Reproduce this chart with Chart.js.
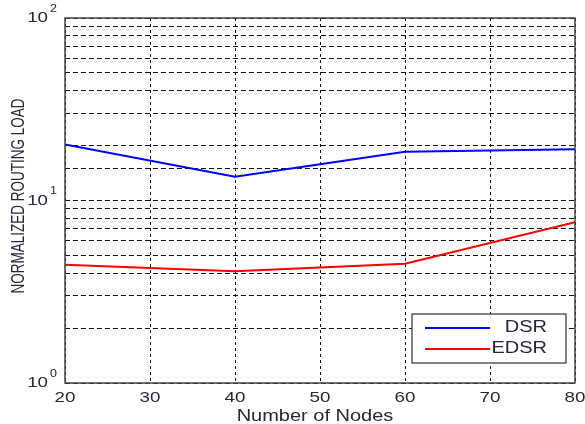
<!DOCTYPE html>
<html>
<head>
<meta charset="utf-8">
<script src="https://cdn.jsdelivr.net/npm/chart.js@4"></script>
<style>
  body { margin: 0; background: #fff; }
  canvas { display: block; }
</style>
</head>
<body>
<canvas id="grafica" width="585" height="424"></canvas>
<script>
// datos de la carga de enrutamiento normalizada
const nodos = [20, 40, 60, 80];
const dsr = [20.3, 13.5, 18.5, 19.1];
const edsr = [4.45, 4.1, 4.5, 7.6];
const ticksX = [20, 30, 40, 50, 60, 70, 80];
const exponentesY = [0, 1, 2];

const colorTexto = '#2a2438';
const estirar = 1.25; // el texto sale un poco ancho

// texto con escala horizontal
function texto(ctx, str, x, y, size, align, base) {
  ctx.save();
  ctx.font = size + 'px "Liberation Sans", Arial, sans-serif';
  ctx.fillStyle = colorTexto;
  ctx.textAlign = align;
  ctx.textBaseline = base;
  ctx.translate(x, y);
  ctx.scale(estirar, 1);
  ctx.fillText(str, 0, 0);
  ctx.restore();
}

const dibujoExtra = {
  id: 'dibujoExtra',
  afterDraw(chart) {
    const ctx = chart.ctx;
    const a = chart.chartArea;
    const sx = chart.scales.x;
    const sy = chart.scales.y;

    // marco
    ctx.save();
    ctx.strokeStyle = '#444';
    ctx.lineWidth = 1.5;
    ctx.strokeRect(a.left, a.top, a.right - a.left, a.bottom - a.top);
    ctx.restore();

    // etiquetas eje x
    ticksX.forEach(v => {
      texto(ctx, String(v), sx.getPixelForValue(v), a.bottom + 7, 15, 'center', 'top');
    });

    // etiquetas eje y: 10 elevado al exponente
    exponentesY.forEach(e => {
      const y = sy.getPixelForValue(Math.pow(10, e));
      texto(ctx, '10', 48, y, 15, 'right', 'middle');
      texto(ctx, String(e), 50, y - 9, 10, 'left', 'middle');
    });

    // titulo eje x
    texto(ctx, 'Number of Nodes', 315, 409, 16, 'center', 'top');

    // titulo eje y (girado)
    ctx.save();
    ctx.font = '13.5px "Liberation Sans", Arial, sans-serif';
    ctx.fillStyle = colorTexto;
    ctx.textAlign = 'center';
    ctx.textBaseline = 'middle';
    ctx.translate(19.5, 196);
    ctx.scale(1.3, 1);
    ctx.rotate(-Math.PI / 2);
    ctx.fillText('NORMALIZED ROUTING LOAD', 0, 0);
    ctx.restore();

    // leyenda
    ctx.save();
    ctx.fillStyle = '#fff';
    ctx.fillRect(412, 314, 154, 49);
    ctx.strokeStyle = '#333';
    ctx.lineWidth = 1.2;
    ctx.strokeRect(412, 314, 154, 49);
    const series = [['DSR', '#0000ff', 328], ['EDSR', '#ff0000', 349]];
    series.forEach(([nombre, color, y]) => {
      ctx.strokeStyle = color;
      ctx.lineWidth = 2;
      ctx.beginPath();
      ctx.moveTo(425, y);
      ctx.lineTo(490, y);
      ctx.stroke();
      texto(ctx, nombre, 547, y, 16, 'right', 'middle');
    });
    ctx.restore();
  }
};

const ctx = document.getElementById('grafica').getContext('2d');
new Chart(ctx, {
  type: 'line',
  data: {
    datasets: [
      {
        label: 'DSR',
        data: nodos.map((n, i) => ({ x: n, y: dsr[i] })),
        borderColor: '#0000ff',
        borderWidth: 2,
        pointRadius: 0,
        tension: 0
      },
      {
        label: 'EDSR',
        data: nodos.map((n, i) => ({ x: n, y: edsr[i] })),
        borderColor: '#ff0000',
        borderWidth: 2,
        pointRadius: 0,
        tension: 0
      }
    ]
  },
  options: {
    responsive: false,
    animation: false,
    layout: { padding: { left: 65, right: 10, top: 18, bottom: 41 } },
    plugins: {
      legend: { display: false },
      tooltip: { enabled: false }
    },
    scales: {
      x: {
        type: 'linear',
        min: 20,
        max: 80,
        ticks: { display: false, stepSize: 10 },
        border: { display: false },
        grid: {
          color: '#111',
          lineWidth: 1,
          drawTicks: false,
          tickBorderDash: [3, 3]
        },
        afterFit: s => { s.height = 0; }
      },
      y: {
        type: 'logarithmic',
        min: 1,
        max: 100,
        ticks: { display: false, autoSkip: false },
        border: { display: false, dash: [5, 3] },
        grid: { color: '#111', lineWidth: 1, drawTicks: false },
        afterFit: s => { s.width = 0; }
      }
    }
  },
  plugins: [dibujoExtra, {
    id: 'rayas',
    // lineas de la rejilla punteadas
    beforeDraw(chart) {
      chart.scales.x.options.border.dash = [3, 3];
      chart.scales.y.options.border.dash = [5, 3];
    }
  }]
});
</script>
</body>
</html>
